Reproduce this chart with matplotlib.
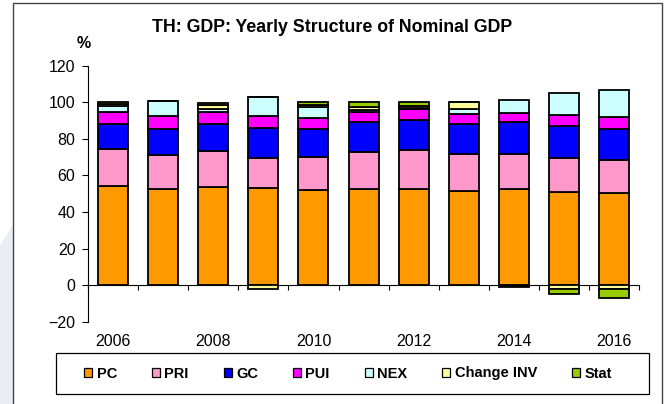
import numpy as np
import matplotlib.pyplot as plt
from matplotlib.patches import Patch, Rectangle, Polygon

plt.rcParams['font.family'] = ['Liberation Sans', 'DejaVu Sans']

# Structure of nominal GDP, % share by component
years = list(range(2006, 2017))
pc = [54.5, 52.6, 53.8, 53.0, 52.1, 52.6, 52.6, 51.8, 52.5, 51.1, 50.6]
pri = [19.9, 18.6, 19.8, 16.5, 17.9, 20.2, 21.3, 19.9, 19.2, 18.5, 18.0]
gc = [13.6, 14.1, 14.3, 16.4, 15.6, 16.4, 16.3, 16.3, 17.4, 17.3, 16.8]
pui = [6.9, 7.2, 6.6, 6.6, 6.0, 5.3, 6.0, 5.6, 5.2, 6.2, 6.6]
nex = [3.3, 8.0, 2.0, 10.3, 5.8, 1.5, 0.8, 3.0, 6.9, 12.0, 14.9]
chg_inv = [0.7, 0.0, 1.8, -2.2, 1.2, 1.5, 1.0, 3.4, -0.3, -2.2, -1.9]
stat = [1.1, 0.0, 1.2, 0.0, 1.4, 2.5, 2.0, 0.0, -0.8, -2.7, -4.9]

series = [
    ('PC', pc, '#FF9900'),
    ('PRI', pri, '#FF99CC'),
    ('GC', gc, '#0000FF'),
    ('PUI', pui, '#FF00FF'),
    ('NEX', nex, '#CCFFFF'),
    ('Change INV', chg_inv, '#FFFF99'),
    ('Stat', stat, '#99CC00'),
]

fig = plt.figure(figsize=(6.65, 4.04), dpi=100)
ax = fig.add_axes([0.1328, 0.2032, 0.8277, 0.6342])

x = np.arange(len(years))
pos_base = np.zeros(len(years))
neg_base = np.zeros(len(years))
for name, vals, col in series:
    v = np.array(vals, dtype=float)
    base = np.where(v >= 0, pos_base, neg_base)
    ax.bar(x, v, bottom=base, width=0.6, color=col, edgecolor='black',
           linewidth=1.3, zorder=3)
    pos_base += np.where(v >= 0, v, 0)
    neg_base += np.where(v < 0, v, 0)

ax.set_xlim(-0.5, len(years) - 0.5)
ax.set_ylim(-20, 120)
ax.set_yticks(np.arange(-20, 121, 20))
ax.tick_params(axis='y', direction='out', length=4.3, width=0.8, pad=5,
               labelsize=11.5)

# category axis crosses at zero, labels sit below the plot
ax.spines['bottom'].set_position(('data', 0))
ax.spines['top'].set_visible(False)
ax.spines['right'].set_visible(False)
ax.spines['left'].set_linewidth(0.8)
ax.spines['bottom'].set_linewidth(0.8)
ax.set_xticks(np.arange(-0.5, len(years), 1.0))
ax.tick_params(axis='x', which='major', direction='out', length=3.5,
               width=0.8, labelbottom=False)
ax.set_xticks(x[::2], minor=True)
ax.set_xticklabels([str(y) for y in years[::2]], minor=True)
ax.tick_params(axis='x', which='minor', length=0, pad=35, labelsize=11.5)

fig.text(0.5, 1 - 28 / 404, 'TH: GDP: Yearly Structure of Nominal GDP',
         ha='center', va='center', fontsize=12.8, fontweight='bold')
fig.text(84 / 665, 1 - 44 / 404, '%', ha='center', va='center',
         fontsize=11.5, fontweight='bold')

handles = [Patch(facecolor=c, edgecolor='black', linewidth=0.9)
           for _, _, c in series]
fig.legend(handles, [s[0] for s in series], loc='center',
           bbox_to_anchor=(348 / 665, 1 - 373.5 / 404), ncol=7,
           frameon=False, prop={'weight': 'bold', 'size': 10.5},
           handlelength=0.55, handleheight=0.55, handletextpad=0.3,
           columnspacing=2.4)

# legend box
fig.patches.append(Rectangle((56 / 665, 1 - 394 / 404), 593 / 665, 41 / 404,
                             transform=fig.transFigure, fill=False,
                             edgecolor='black', linewidth=0.9))
# outer chart frame and shaded margin
fig.patches.append(Polygon([(0, 1 - 245 / 404), (13 / 665, 1 - 225 / 404),
                            (13 / 665, 0), (0, 0)],
                           closed=True, transform=fig.transFigure,
                           facecolor='#ECECF6', edgecolor='none'))
fig.lines.append(plt.Line2D([13 / 665, 13 / 665, 662 / 665, 662 / 665],
                            [0, 1 - 3 / 404, 1 - 3 / 404, 0],
                            transform=fig.transFigure, color='#444444',
                            linewidth=1.0))

fig.savefig('out.png', dpi=100)
